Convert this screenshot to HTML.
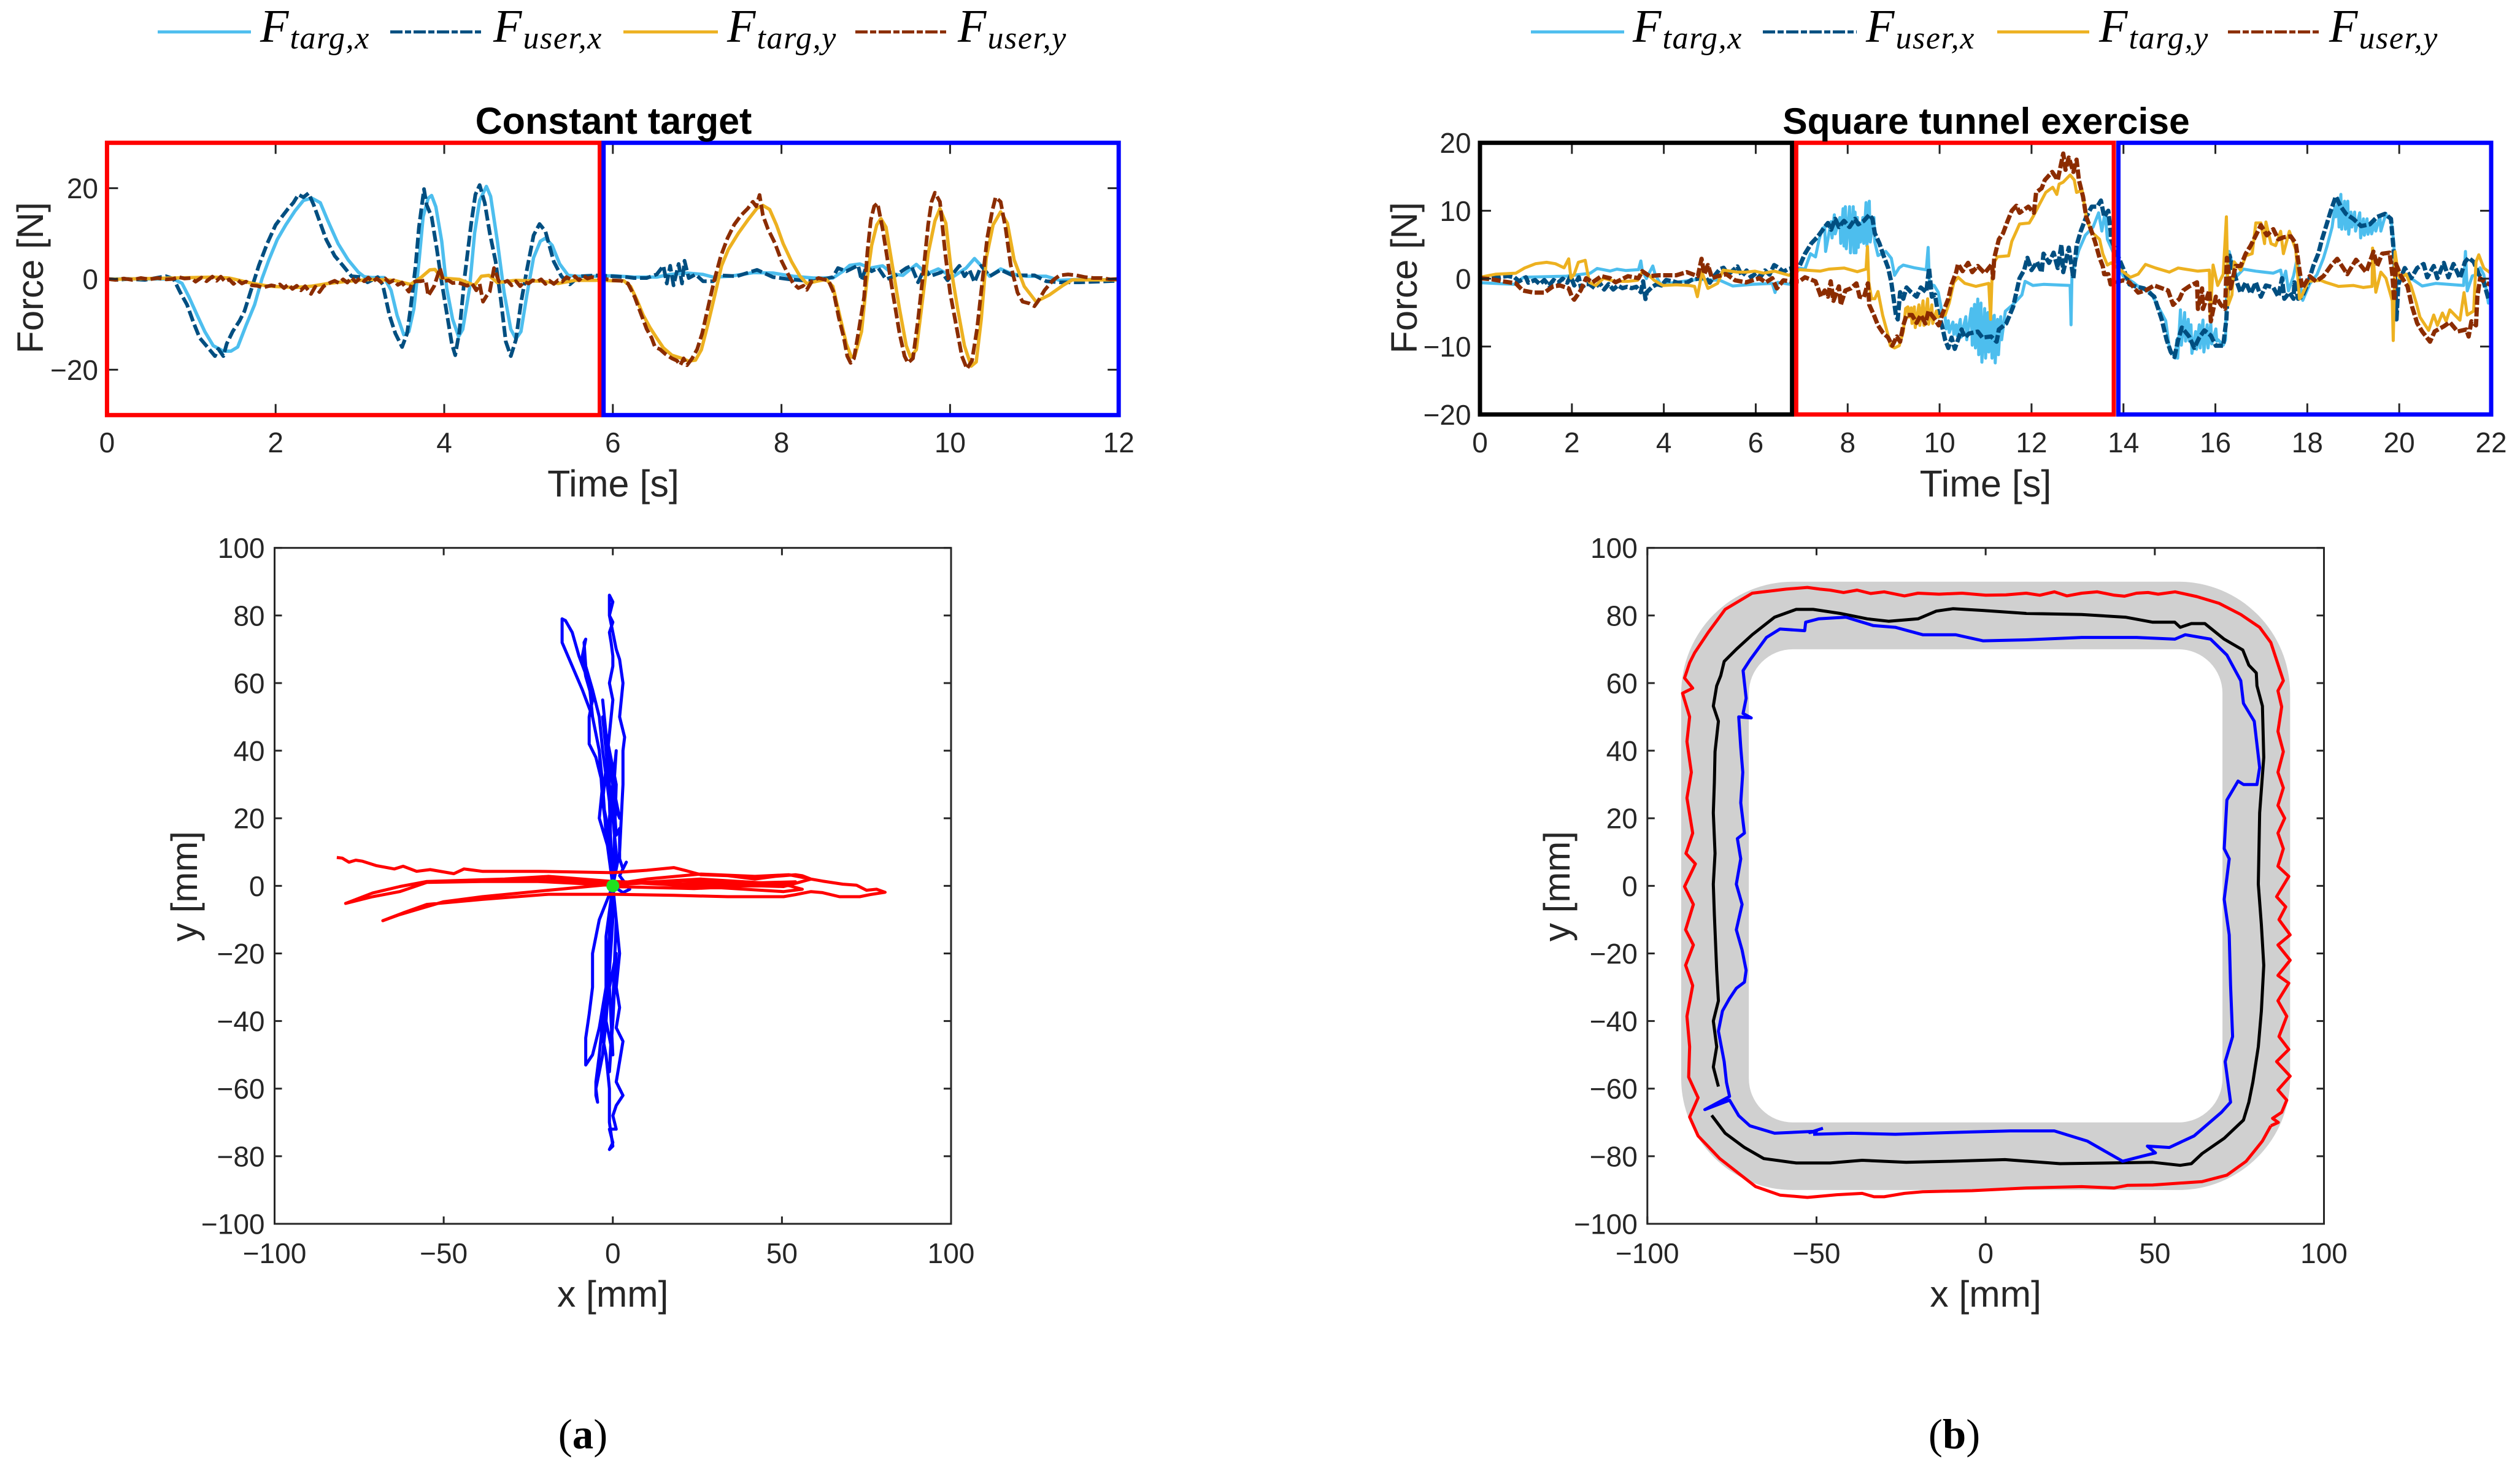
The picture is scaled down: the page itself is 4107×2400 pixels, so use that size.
<!DOCTYPE html>
<html lang="en">
<head>
<meta charset="utf-8">
<title>Force and trajectory charts</title>
<style>
html,body{margin:0;padding:0;background:#fff}
svg{display:block}
text{font-family:"Liberation Sans",Arial,sans-serif;fill:#262626}
.math{font-family:"Liberation Serif",serif;font-style:italic;fill:#000}
</style>
</head>
<body>
<svg id="chart" xmlns="http://www.w3.org/2000/svg" width="4107" height="2400" viewBox="0 0 4107 2400">
<rect x="0" y="0" width="4107" height="2400" fill="#fff"/>
<g id="layer"></g>
</svg>
<script>
const leftTicksX=[0,2,4,6,8,10,12];
const leftTicksY=[-20,0,20];
const rightTicksX=[0,2,4,6,8,10,12,14,16,18,20,22];
const rightTicksY=[-20,-10,0,10,20];
const pathTicksX=[-100,-50,0,50,100];
const pathTicksY=[-100,-80,-60,-40,-20,0,20,40,60,80,100];
const leftFrames=[["red",0,5.845],["blue",5.89,12]];
const rightFrames=[["black",0,6.79],["red",6.88,13.79],["blue",13.89,22]];
const tunnelOuter=[90,33];
const tunnelInner=[70,13];
const originPoint=[0,0];

const leftTargX=[[0,0],[.79,0],[.89,-.97],[.97,-3.9],[1.07,-8],[1.16,-11.6],[1.26,-14.7],[1.38,-15.9],[1.47,-15.9],[1.55,-15],[1.65,-10.2],[1.75,-5.7],[1.84,.15],[1.92,4.2],[2.02,8.7],[2.12,11.9],[2.23,15],[2.33,17.3],[2.43,17.8],[2.53,16.8],[2.62,12.8],[2.74,7.8],[2.86,4.2],[2.98,1.5],[3.05,.5],[3.15,.3],[3.29,.3],[3.37,-2.5],[3.44,-8],[3.52,-12.3],[3.58,-11.6],[3.64,-6.6],[3.7,3.8],[3.75,13.7],[3.81,17.8],[3.85,18.4],[3.9,15.9],[3.97,8.3],[4.03,-2.1],[4.1,-8.9],[4.17,-12.7],[4.22,-11.1],[4.3,-2.1],[4.36,10.1],[4.42,17.3],[4.5,20.4],[4.55,18.2],[4.63,8.3],[4.71,-3],[4.79,-11.1],[4.85,-13.2],[4.91,-11.6],[4.98,-3.5],[5.06,4.7],[5.14,8.3],[5.2,9],[5.28,7.4],[5.37,3.3],[5.47,.8],[5.59,.6],[5.84,.6],[6,.7],[6.25,.4],[6.52,.4],[6.68,1],[6.88,1.3],[7.07,1],[7.19,.4],[7.39,.6],[7.67,1.4],[7.9,1.3],[8.14,.6],[8.38,.2],[8.61,.2],[8.73,1.7],[8.81,3],[8.93,3.3],[9.05,2.4],[9.2,2.9],[9.32,1.1],[9.44,.8],[9.6,3.2],[9.72,1.1],[9.86,2.2],[10.03,.4],[10.19,2.4],[10.29,4.5],[10.37,2.9],[10.47,.6],[10.6,2.2],[10.74,1.1],[10.9,.6],[11.14,.6],[11.3,-.3],[11.53,-.1],[11.97,-.2],[12,-.2]];
const leftUserX=[[0,0],[.13,-.2],[.25,0],[.45,-.2],[.7,.6],[.79,0],[.87,-3],[.95,-5.7],[1.03,-9.8],[1.1,-13],[1.2,-15.2],[1.28,-17],[1.32,-15.4],[1.38,-17],[1.42,-14.3],[1.49,-11.6],[1.57,-9.3],[1.63,-7.1],[1.73,-1.2],[1.8,2.9],[1.9,7.8],[2,11.9],[2.14,15.3],[2.21,16.8],[2.27,18.6],[2.33,18],[2.39,18.9],[2.45,16.4],[2.53,12.3],[2.6,8.7],[2.7,5.1],[2.8,2.9],[2.9,.6],[3.01,.4],[3.09,-.75],[3.21,.4],[3.27,-1.2],[3.35,-8],[3.42,-12],[3.5,-15],[3.56,-12],[3.6,-6.6],[3.66,2.9],[3.7,11.4],[3.76,19.8],[3.79,16.4],[3.85,13.7],[3.91,6.9],[3.97,-.75],[4.03,-7.5],[4.09,-14.3],[4.13,-16.8],[4.18,-11.6],[4.24,.15],[4.32,12.3],[4.37,18.6],[4.42,20.7],[4.48,16.8],[4.54,10.1],[4.61,3.8],[4.67,-4.4],[4.73,-13.8],[4.79,-17],[4.85,-13.4],[4.91,-5.3],[4.98,2],[5.06,9.6],[5.13,12.1],[5.2,10.5],[5.3,3.8],[5.39,.6],[5.49,-1.2],[5.6,.6],[5.84,.8],[6,.6],[6.17,.4],[6.25,.2],[6.4,.2],[6.52,1],[6.6,2.9],[6.64,-1],[6.68,2.9],[6.72,-1.4],[6.78,3.3],[6.82,-1],[6.85,4],[6.9,.2],[6.98,1],[7.07,-.5],[7.19,-.5],[7.27,.8],[7.47,.6],[7.71,2],[7.9,.4],[8.1,-.1],[8.38,-.5],[8.61,.4],[8.67,2.4],[8.77,1.7],[8.91,3],[8.95,-.3],[9.01,2.9],[9.07,1.7],[9.15,2.4],[9.24,-.1],[9.34,.6],[9.48,2.4],[9.54,2.9],[9.62,-.75],[9.7,2.4],[9.76,.6],[9.9,1.5],[9.97,-.3],[10.11,2.9],[10.17,.6],[10.23,2],[10.29,-.75],[10.37,2.9],[10.47,.6],[10.6,2],[10.74,.8],[11,.8],[11.14,-.5],[11.3,-.75],[11.53,-.75],[12,-.4]];
const leftTargY=[[0,-.1],[.79,.2],[1.26,.4],[1.45,.2],[1.73,-1],[1.92,-1.6],[2.23,-1.9],[2.43,-1.6],[2.62,-1],[2.86,-.5],[3.13,-.1],[3.4,-.3],[3.6,-1.2],[3.73,.4],[3.83,2],[3.89,2.1],[3.97,.2],[4.18,-.1],[4.36,-1.4],[4.44,.6],[4.53,.8],[4.63,-.8],[4.85,-.3],[5.16,-.5],[5.35,-1],[5.55,-.3],[5.84,-.3],[6.01,-.4],[6.13,-.4],[6.21,-1.65],[6.29,-4.8],[6.36,-8],[6.44,-10.7],[6.52,-13],[6.6,-15.2],[6.7,-16.8],[6.8,-17.4],[6.9,-18.1],[6.98,-17.9],[7.05,-15.6],[7.13,-9.8],[7.21,-3.5],[7.29,2.9],[7.37,6.5],[7.49,10.1],[7.61,13.2],[7.71,15.6],[7.78,16.2],[7.86,15.3],[7.94,11.9],[8.02,7.8],[8.12,3.8],[8.22,.6],[8.3,-1],[8.42,-.5],[8.53,-.1],[8.61,-1.65],[8.69,-8],[8.77,-14.3],[8.83,-17.2],[8.87,-17],[8.95,-11.6],[9.01,-.75],[9.07,7.4],[9.13,11.9],[9.18,13.3],[9.24,11.4],[9.32,2.4],[9.4,-6.6],[9.48,-14.7],[9.53,-17.2],[9.6,-15.6],[9.66,-6.6],[9.74,5.6],[9.82,12.8],[9.88,15.5],[9.95,12.3],[10.01,2.4],[10.09,-6.6],[10.17,-14.7],[10.25,-19.2],[10.31,-18.3],[10.37,-8.9],[10.43,4.7],[10.51,11.9],[10.6,14.8],[10.68,12.3],[10.76,4.2],[10.88,-1.65],[11.02,-5],[11.18,-3.5],[11.34,-1.4],[11.45,-.2],[11.97,-.2],[12,-.2]];
const leftUserY=[[0,0],[.1,-.2],[.2,.1],[.3,-.2],[.4,.2],[.5,-.1],[.6,.2],[.7,-.1],[.78,0],[.85,.4],[.92,.1],[1,.2],[1.05,-.6],[1.12,.3],[1.18,-.5],[1.25,.5],[1.3,-.4],[1.35,.5],[1.4,-.6],[1.45,-.1],[1.5,-1.1],[1.55,-.3],[1.6,-1],[1.65,-.6],[1.72,-1.4],[1.78,-1.5],[1.85,-1.9],[1.95,-1.4],[2,-1.6],[2.05,-1.2],[2.1,-2],[2.15,-1.2],[2.2,-2.2],[2.25,-1.5],[2.3,-2.5],[2.35,-1.6],[2.42,-3.3],[2.47,-1.7],[2.52,-2.9],[2.57,-1.6],[2.65,-.8],[2.7,-.4],[2.75,-.9],[2.8,-.1],[2.85,-.8],[2.9,.3],[2.95,-.7],[3,.2],[3.05,-.5],[3.1,.3],[3.15,-.6],[3.2,.1],[3.25,-.7],[3.3,.1],[3.35,-.8],[3.4,-.3],[3.45,-1.3],[3.5,-.8],[3.58,-2.8],[3.62,-.8],[3.67,-.5],[3.72,-.5],[3.78,-.3],[3.81,-3.7],[3.88,-1.6],[3.95,2.4],[3.99,-.5],[4.05,-.3],[4.1,-.9],[4.15,-.8],[4.2,-1],[4.27,-1.5],[4.33,-1],[4.38,-2.5],[4.42,-1.1],[4.46,-5],[4.5,-3.8],[4.54,-2.8],[4.59,2.4],[4.65,-.6],[4.7,-.8],[4.75,-.4],[4.8,-1.4],[4.85,-.5],[4.9,-1.6],[4.95,-.6],[5,-1],[5.05,-.3],[5.1,-.6],[5.15,-.1],[5.2,-1.1],[5.25,-.4],[5.3,-1.1],[5.35,-.3],[5.4,-.6],[5.45,.4],[5.5,-.1],[5.55,.6],[5.6,-.3],[5.65,.7],[5.7,.1],[5.75,.4],[5.84,.2],[6,-.3],[6.1,-.4],[6.18,-1],[6.26,-4],[6.33,-7.5],[6.4,-11],[6.46,-13],[6.5,-15],[6.56,-15.5],[6.62,-16.5],[6.7,-17.5],[6.76,-18],[6.8,-19],[6.84,-17.5],[6.88,-19],[6.94,-17.5],[7,-15.5],[7.06,-12],[7.12,-7],[7.2,-.5],[7.28,5],[7.36,9],[7.44,12],[7.52,14],[7.6,15.5],[7.66,17],[7.7,16],[7.74,18.5],[7.78,14],[7.84,11],[7.92,8],[8,4],[8.08,1],[8.14,-1],[8.2,-2],[8.26,-1.5],[8.3,-2.4],[8.36,-.5],[8.44,.2],[8.5,-.1],[8.56,-.4],[8.62,-3],[8.68,-8.5],[8.74,-13],[8.78,-17],[8.82,-18.5],[8.86,-17.5],[8.92,-11],[8.98,-4],[9.02,6],[9.06,13],[9.1,16],[9.14,16.7],[9.2,11],[9.26,4],[9.32,-3],[9.4,-12],[9.46,-17],[9.5,-18.5],[9.56,-17.5],[9.62,-9],[9.68,1],[9.74,12],[9.78,17],[9.82,19],[9.88,17],[9.94,6],[10,-3],[10.08,-11],[10.14,-17],[10.2,-19.8],[10.26,-18],[10.32,-11],[10.38,-1],[10.44,9],[10.5,15],[10.54,18],[10.6,17],[10.66,11],[10.72,3],[10.8,-3],[10.86,-5],[10.94,-5.4],[11,-6],[11.04,-5],[11.12,-2.5],[11.22,-.3],[11.3,.8],[11.4,1],[11.5,.8],[11.6,.4],[11.7,.2],[11.8,.2],[11.9,-.1],[12,0]];

const rightTargX=[[0,-.6],[.74,-.84],[.95,.2],[1.88,.36],[2.4,.8],[2.55,1.5],[2.83,1.12],[2.98,1.4],[3.17,1.2],[3.45,1.32],[3.5,2.6],[3.53,1.26],[3.62,0],[3.76,1.86],[3.81,.66],[3.93,-.84],[4.27,-.54],[4.74,-.1],[5.22,-.24],[5.5,-1.08],[5.93,-.84],[6.36,-.7],[6.42,-2.04],[6.48,-.54],[6.75,-.84],[6.95,1.56],[7.07,1.4],[7.19,3.68],[7.3,3.2],[7.38,5.8],[7.45,7.4],[7.5,7.6],[7.52,4],[7.64,8.4],[7.66,6],[7.71,9.4],[7.73,6.6],[7.83,9],[7.85,5.2],[7.9,10.3],[7.92,4.8],[7.95,10.6],[7.97,4.4],[8.04,10.6],[8.06,3.8],[8.12,10.6],[8.14,3.8],[8.16,9.8],[8.18,3.8],[8.21,9],[8.23,4.6],[8.26,8.2],[8.28,5.4],[8.33,9],[8.35,5.2],[8.4,11.2],[8.42,4.8],[8.47,11.4],[8.49,5.4],[8.57,9],[8.59,5.4],[8.66,3.4],[8.83,4],[8.95,3],[9.02,.5],[9.12,1.6],[9.21,2],[9.45,1.6],[9.71,1.3],[9.75,4.6],[9.78,-.8],[9.88,-1],[9.97,-2],[10.05,-4.8],[10.12,-5.6],[10.14,-7.4],[10.19,-6.2],[10.21,-7.92],[10.29,-6.4],[10.31,-8.2],[10.36,-6.8],[10.38,-8.4],[10.45,-6],[10.47,-8.6],[10.57,-5.6],[10.59,-9],[10.69,-4.4],[10.71,-9.8],[10.76,-3.8],[10.78,-10.2],[10.83,-3],[10.85,-11.2],[10.9,-3.6],[10.92,-12.3],[10.98,-4.4],[11,-11.7],[11.05,-5],[11.07,-10.8],[11.12,-5.4],[11.14,-11.7],[11.19,-5.4],[11.21,-12.4],[11.26,-6],[11.28,-11.2],[11.33,-5.6],[11.35,-9],[11.43,-4.8],[11.6,-3.8],[11.79,-2.4],[11.86,-.4],[12.03,-1],[12.26,-.84],[12.84,-1],[12.86,-6.8],[12.88,.6],[13.03,4.2],[13.17,6.4],[13.34,7.6],[13.46,9.7],[13.53,7],[13.6,9.8],[13.65,5.8],[13.73,4.6],[13.99,.4],[14.21,-.54],[14.37,-1.4],[14.59,-2],[14.73,-3.8],[14.92,-6.2],[15,-10.2],[15.13,-11.7],[15.16,-9],[15.18,-11.7],[15.24,-4.6],[15.26,-9.8],[15.33,-5],[15.35,-9.2],[15.41,-6],[15.43,-9.2],[15.47,-6.8],[15.49,-11],[15.57,-7.8],[15.59,-10.4],[15.65,-6.8],[15.67,-10.2],[15.73,-6.1],[15.75,-10.8],[15.82,-6.8],[15.84,-10.2],[15.9,-6.6],[15.92,-9.6],[16.01,-7.4],[16.03,-9.2],[16.06,-9],[16.17,-9.8],[16.22,-9],[16.25,0],[16.3,4],[16.39,1.6],[16.47,.4],[16.61,1.4],[16.88,1.1],[17.26,.8],[17.42,1.26],[17.47,-.4],[17.53,1.1],[17.59,-1.8],[17.7,.4],[17.78,3],[17.83,0],[17.9,-3.2],[18.05,-.8],[18.21,.6],[18.35,3],[18.43,4.8],[18.54,7.6],[18.6,10.6],[18.62,9.1],[18.67,11.8],[18.69,7.6],[18.73,12.4],[18.75,7.28],[18.81,11.4],[18.83,7.28],[18.88,11.4],[18.9,6.54],[18.95,9.8],[18.97,7.6],[19.03,9.8],[19.05,7],[19.14,9.7],[19.16,6],[19.22,8.8],[19.24,6.4],[19.3,8.8],[19.32,6.54],[19.38,8.2],[19.4,6.6],[19.47,8.4],[19.49,7],[19.58,9.2],[19.6,7],[19.71,9.6],[19.73,9.1],[19.82,8.8],[19.88,5.4],[19.93,-1.4],[19.99,-.2],[20.07,.6],[20.18,.4],[20.5,-1.08],[20.8,-.7],[21.4,-1],[21.44,4],[21.48,-1.8],[21.59,.4],[21.7,.6],[21.76,1.6],[21.84,.6],[21.94,-3.6],[22,-3.6]];
const rightUserX=[[0,.2],[.3,.1],[.6,.4],[.75,.2],[.85,-.4],[1,.2],[1.05,-.6],[1.2,-.2],[1.3,-.8],[1.4,-.2],[1.5,-1],[1.6,-.2],[1.7,-.6],[1.8,0],[1.9,-.6],[1.97,.4],[2.05,-1],[2.15,.2],[2.2,-1.4],[2.3,-.8],[2.38,-.8],[2.5,-1.4],[2.6,-.6],[2.7,-1.6],[2.8,-.8],[2.9,-1.6],[3,-1],[3.1,-1.4],[3.2,-1.2],[3.3,-1.4],[3.4,-1.2],[3.5,-2],[3.55,-.4],[3.6,-3],[3.63,-2],[3.75,-1.2],[3.85,-.8],[3.95,-1],[4.05,-.2],[4.2,-.4],[4.3,-.6],[4.5,-.6],[4.6,-.2],[4.75,0],[4.9,.2],[5,-.6],[5.1,.4],[5.22,1.4],[5.3,1.6],[5.4,.6],[5.5,1.2],[5.6,1.8],[5.7,.4],[5.8,1.2],[5.9,.2],[6,.8],[6.1,.2],[6.2,1.2],[6.3,.6],[6.4,2],[6.5,1.6],[6.6,1],[6.7,1.4],[6.95,1.8],[7.07,3.66],[7.21,5.2],[7.35,6.2],[7.5,7.6],[7.57,8.2],[7.64,7.2],[7.73,8.8],[7.81,7.6],[7.92,8.5],[8.04,7.6],[8.16,8.8],[8.23,8],[8.35,8.5],[8.47,9.4],[8.54,8.8],[8.59,6.68],[8.69,5.2],[8.78,3.4],[8.88,1.6],[8.95,-.54],[9,-2.96],[9.05,-5.36],[9.09,-6],[9.14,-2],[9.21,-2.96],[9.28,-1.3],[9.38,-2],[9.5,-2.66],[9.59,-1.3],[9.71,-2],[9.77,1.56],[9.83,-2.66],[9.9,-2.36],[9.95,-4.46],[10.05,-6.88],[10.12,-9],[10.19,-10.2],[10.26,-8.68],[10.33,-10.34],[10.4,-9],[10.48,-7.48],[10.55,-8.68],[10.64,-8.08],[10.83,-7.8],[10.93,-8.68],[11.12,-8.52],[11.24,-9.28],[11.29,-7.48],[11.45,-6.6],[11.6,-4.16],[11.74,.06],[11.84,1.26],[11.91,3.06],[12,1.26],[12.12,2.46],[12.22,.96],[12.26,3.68],[12.38,2.32],[12.48,3.82],[12.57,1.56],[12.65,5.02],[12.69,.96],[12.81,4.56],[12.91,.06],[12.98,4.88],[13.07,6.98],[13.19,9.1],[13.31,10.6],[13.43,10.6],[13.51,11.5],[13.58,9.1],[13.67,10],[13.72,6.98],[13.73,5.78],[13.99,1.56],[14.13,-.84],[14.26,-1.14],[14.45,-1.44],[14.67,-2.66],[14.83,-5.96],[14.94,-9],[15.03,-10.8],[15.11,-11.54],[15.19,-9],[15.27,-7.2],[15.43,-8.52],[15.54,-10.2],[15.65,-8.68],[15.76,-7.62],[15.9,-8.38],[16.01,-9.88],[16.17,-9.88],[16.24,-5.96],[16.28,.06],[16.31,3.38],[16.39,1.26],[16.47,-.54],[16.55,-2.06],[16.66,-.54],[16.77,-2.2],[16.88,-.54],[16.99,-2.66],[17.1,-1],[17.26,-1.3],[17.37,-2.66],[17.45,.06],[17.5,-2.96],[17.61,-2.06],[17.7,-2.96],[17.72,-.54],[17.8,-2.96],[17.89,-2.66],[18.02,-.54],[18.13,1.86],[18.24,3.68],[18.32,5.78],[18.43,8.2],[18.51,9.98],[18.62,12.1],[18.73,10.6],[18.84,9.54],[19,8.8],[19.17,7.74],[19.36,8],[19.52,9.1],[19.69,9.54],[19.82,8.8],[19.9,2.46],[19.94,-6],[19.98,-.84],[20.12,1.56],[20.26,.06],[20.39,1.56],[20.53,2.16],[20.61,.2],[20.75,1.86],[20.83,.06],[20.97,2.32],[21.07,.2],[21.18,2.16],[21.32,.06],[21.43,2.46],[21.51,3.06],[21.62,2.46],[21.73,.66],[21.84,-.54],[21.94,-2.96],[22,-3.2]];
const rightTargY=[[0,.2],[.35,.66],[.78,.8],[.97,1.56],[1.21,2.2],[1.45,2.4],[1.64,2.2],[1.83,1.6],[1.93,2.92],[1.98,.06],[2.05,.66],[2.14,2.4],[2.29,2.7],[2.38,-.54],[2.52,-1],[2.69,.06],[2.93,-.4],[3.22,-.4],[3.43,-.24],[3.53,1],[3.65,.66],[3.79,-.24],[3.98,-1],[4.27,-.9],[4.55,-1],[4.67,-1.14],[4.73,-2.66],[4.79,-.54],[4.83,.96],[4.96,-1.44],[5.17,-.7],[5.29,1.26],[5.6,.96],[5.79,.96],[5.98,1.1],[6.17,.8],[6.41,1.1],[6.72,.5],[6.95,1.32],[7.4,1.1],[7.59,1.4],[7.92,1.56],[8.21,1.02],[8.4,1.4],[8.43,4.72],[8.46,-.54],[8.52,-2.96],[8.59,-2.96],[8.66,-1.9],[8.76,-5.36],[8.88,-8.38],[8.93,-9.88],[9.02,-10.2],[9.12,-9.88],[9.21,-7.8],[9.26,-4.4],[9.31,-4.16],[9.33,-5.66],[9.38,-4.3],[9.4,-6.6],[9.45,-4.16],[9.47,-7.2],[9.55,-3.86],[9.57,-6.88],[9.64,-3.26],[9.66,-6.88],[9.74,-2.96],[9.76,-6.72],[9.83,-3.86],[9.85,-6.6],[9.93,-4.76],[9.95,-5.66],[10.12,-5.36],[10.21,-3.56],[10.31,-.54],[10.4,.2],[10.55,-.7],[10.79,-1.14],[11.07,-.7],[11.11,-5.98],[11.14,.06],[11.19,2.46],[11.26,3.22],[11.5,3.36],[11.57,5.48],[11.67,6.98],[11.74,8.04],[11.95,8.2],[12.03,9.1],[12.17,10.9],[12.31,12.7],[12.46,13.46],[12.55,12.4],[12.6,13.92],[12.69,14.22],[12.84,15.26],[12.93,14.52],[12.98,12.7],[13.1,13],[13.19,9.1],[13.29,6.98],[13.48,5.78],[13.55,3.68],[13.65,2],[13.73,2.32],[13.99,1],[14.15,.2],[14.32,.66],[14.48,2.1],[14.7,1.56],[15,.96],[15.19,1.56],[15.62,1.1],[15.87,1.26],[15.89,-5.36],[15.95,2],[16.05,-1],[16.17,.66],[16.24,9.1],[16.28,-3.86],[16.36,-2.4],[16.41,2.46],[16.55,1.26],[16.66,3.36],[16.8,3.68],[16.88,8.2],[16.99,8.2],[17.07,5.16],[17.1,8.34],[17.21,5.16],[17.31,4.86],[17.42,6.98],[17.48,3.68],[17.61,6.98],[17.75,4.26],[17.83,-2.96],[17.87,-2.66],[18.02,-.4],[18.29,-.24],[18.4,-.54],[18.68,-1.14],[19,-1],[19.22,-1.3],[19.41,-1.14],[19.42,4.5],[19.49,-2],[19.6,.96],[19.71,.06],[19.85,-3.26],[19.87,-9.12],[19.91,3.98],[19.96,1.56],[20.01,.06],[20.15,.66],[20.26,-1.14],[20.37,-3.56],[20.45,-5.66],[20.64,-7.62],[20.75,-5.36],[20.83,-6.88],[20.94,-5.06],[21.02,-6.26],[21.1,-4.6],[21.32,-6.12],[21.41,-2.06],[21.48,-5.36],[21.62,-4.76],[21.67,2.46],[21.73,3.52],[21.84,1.56],[21.96,.96],[22,.96]];
const rightUserY=[[0,.06],[.26,-.1],[.5,-.4],[.78,-.7],[.93,-1.74],[1.17,-2.06],[1.4,-2.06],[1.59,-1.14],[1.74,-1],[1.93,-1.44],[2,-2.66],[2.05,-3.1],[2.19,-1.74],[2.31,.06],[2.45,-.54],[2.64,.36],[2.83,.06],[2.95,-.54],[3.22,.36],[3.45,.06],[3.53,1.1],[3.69,.36],[3.88,.5],[4.27,.5],[4.5,.96],[4.74,.36],[4.82,2.92],[4.88,.66],[4.96,2],[5.05,.06],[5.17,.36],[5.36,.66],[5.55,-.24],[5.79,-.54],[6.08,.06],[6.22,-.54],[6.36,.06],[6.46,-1.44],[6.6,-.24],[6.75,-.4],[6.95,-.4],[7.07,.2],[7.3,-.4],[7.42,-2.66],[7.5,-1.74],[7.57,-2.66],[7.63,-.4],[7.69,-3.26],[7.81,-1.14],[7.85,-3.86],[7.95,-1.74],[8.07,-1.44],[8.19,-.7],[8.26,-2.66],[8.35,-2.8],[8.44,-.7],[8.47,-3.86],[8.57,-5.36],[8.66,-6.88],[8.76,-7.92],[8.88,-8.68],[8.97,-9.88],[9.07,-8.52],[9.14,-9.28],[9.21,-6.88],[9.28,-5.36],[9.4,-5.36],[9.5,-6.52],[9.59,-5.36],[9.69,-6.6],[9.76,-4.76],[9.88,-5.82],[9.98,-6.88],[10.07,-5.06],[10.19,-2.96],[10.26,-.84],[10.36,.96],[10.4,2.16],[10.5,1.1],[10.62,2.32],[10.71,.96],[10.83,1.86],[10.98,.8],[11.14,2.16],[11.16,.06],[11.19,3.06],[11.29,5.78],[11.38,6.68],[11.48,8.5],[11.57,10],[11.67,10.74],[11.74,9.7],[11.93,10.6],[12.05,9.7],[12.1,12.7],[12.22,13.3],[12.29,14.52],[12.45,15.72],[12.57,14.52],[12.69,18.42],[12.74,16.02],[12.81,17.82],[12.91,15.72],[12.98,17.52],[13.03,14.52],[13.12,12.1],[13.19,9.1],[13.29,7.28],[13.38,5.48],[13.48,3.06],[13.55,1.86],[13.58,.66],[13.67,.66],[13.72,-.84],[13.99,-.24],[14.13,-.54],[14.32,-2.06],[14.48,-1.74],[14.67,-1],[14.97,-1.74],[15.08,-3.86],[15.22,-2.96],[15.3,-1.74],[15.43,-1.14],[15.6,-.54],[15.62,-4.46],[15.71,-1.44],[15.73,-4.46],[15.87,-1.74],[15.9,-6.28],[16.01,-2.66],[16.12,-3.86],[16.21,-4.46],[16.25,3.06],[16.33,-1.44],[16.44,1.86],[16.55,1.86],[16.66,3.68],[16.77,4.88],[16.88,6.38],[16.99,7.88],[17.12,6.38],[17.26,7.28],[17.37,5.78],[17.48,6.08],[17.64,6.24],[17.75,5.18],[17.83,1.26],[17.89,-1.44],[17.97,-.54],[18.05,.36],[18.19,-.4],[18.35,.36],[18.51,1.86],[18.65,2.92],[18.87,.66],[19.06,2.78],[19.28,.96],[19.44,3.98],[19.52,1.86],[19.63,3.68],[19.79,3.82],[19.85,.66],[19.89,-3.26],[19.93,2.16],[20.04,.36],[20.18,-1.14],[20.28,-4.16],[20.39,-6.56],[20.5,-7.78],[20.67,-9.28],[20.77,-7.78],[20.97,-7.02],[21.1,-6.42],[21.27,-7.78],[21.46,-7.48],[21.51,-8.52],[21.57,-6.28],[21.67,-6.88],[21.7,-2.66],[21.76,.06],[21.87,-.54],[21.96,-.84],[22,-.8]];

const crossBlue=[[0,0],[2,10],[2.5,20],[3,30],[3,40],[3.5,44],[2,50],[3,60],[2,67],[1,70],[0,75],[-1,80],[-1,86],[0,84],[-1,80],[0,78],[-1,75],[-.5,72],[0,68],[0,65],[-1,60],[0,55],[-1,45],[-2,35],[-3,25],[-1,15],[0,5],[0,0],[1,-10],[2,-20],[1,-30],[2,-36],[1,-42],[3,-46],[2,-52],[1,-58],[3,-62],[1,-65],[0,-68],[1,-72],[-1,-72],[0,-76],[-1,-78],[0,-77],[-1,-70],[-1,-60],[-2,-50],[-3,-45],[-2,-35],[-1,-20],[0,-5],[0,0],[-2,15],[-3,30],[-4,40],[-6,50],[-7,60],[-10,68],[-12,75],[-14,78.5],[-15,79],[-15,72],[-12,65],[-9,58],[-6,50],[-4,40],[-3,25],[-1,10],[0,0],[-4,-10],[-6,-20],[-6,-30],[-7,-38],[-8,-45],[-8,-52],[-8,-53],[-6,-50],[-4,-42],[-2,-30],[-1,-15],[0,0],[-1,10],[-4,20],[-3,30],[-5,38],[-7,42],[-7,50],[-6,55],[-8,62],[-9,68],[-8,73],[-8.5,72],[-8,65],[-6,58],[-4,50],[-3,40],[-1,25],[-.5,10],[0,0],[-2,-15],[-2,-30],[-3,-40],[-4,-50],[-5,-58],[-5,-62],[-4.5,-64],[-5,-60],[-3,-50],[-2,-40],[-1,-25],[0,-10],[0,0],[1,30],[0,35],[-2,45],[-3,55],[-2,45],[0,30],[1,15],[2,17],[2,8],[3,5],[4,7],[2,3],[5,-1],[3,-2],[0,0],[-1,-20],[-2,-40],[0,-50],[-1,-30],[1,-20],[0,-40],[-1,-55],[0,-35],[1,-10],[0,0],[-1,20],[1,40],[0,25],[2,20],[-1,35],[-3,50],[-1,30],[1,10],[0,0]];
const crossRed=[[-81.6,8.4],[-80,8.2],[-78,7],[-76,7.6],[-74,7.3],[-70,6],[-64.6,5],[-62,5.8],[-58,4.3],[-54,4.8],[-47,3.6],[-44,5],[-38.6,4.3],[-22,4.3],[0,3.9],[10,4.6],[18,5.4],[22,4.4],[26,3.3],[34,3],[42,2],[48,2.8],[54,3.3],[56,3],[58.6,2],[62,1.4],[68,.5],[72,.2],[75,-1.3],[78,-1],[80.5,-1.9],[76,-2.6],[73,-3.2],[67,-3.2],[62,-2],[58.6,-1.7],[54,-2.6],[50.5,-3.2],[34,-3.2],[18,-2.8],[0,-2.5],[-19,-2.5],[-38.6,-4],[-55,-5.5],[-62,-8],[-68,-10.3],[-63,-8.5],[-50,-4.7],[-38.6,-3.2],[-19,-1.3],[0,.5],[26,2],[50.5,.5],[56,-1],[50.5,-1.7],[26,-.2],[0,1.3],[-22,1.3],[-38.6,1.3],[-55,1],[-63,-1.7],[-71,-3.2],[-79,-5.2],[-71,-2.1],[-63,-.2],[-55,1.3],[-32,2],[-19,2.8],[0,1.3],[26,.5],[50.5,-.2],[58.6,2],[52,3.3],[42,2.8],[26,3.5],[10,2],[0,.5],[-20,2.2],[-35,1.8],[-20,1.2],[0,.2],[20,1.6],[40,.8],[54,1.2],[44,.2],[24,-.8],[0,-.2]];
const tunnelRed=[[84.3,-71],[86.5,-70],[84.8,-68.8],[87.5,-67],[89,-63.4],[86.4,-60.4],[90,-56.3],[86,-52],[89.6,-48.4],[86.7,-44.6],[89,-38.6],[86.4,-34],[89.6,-28.8],[86.4,-26.5],[90,-22],[86.4,-17.5],[90,-14.5],[86.7,-10],[88.7,-6.2],[86,-3.2],[89.6,2.8],[86.4,5.8],[88,11],[86.4,15.6],[88.4,20],[86.4,23.8],[88,29],[86.4,33.6],[88,39.7],[86.4,45.7],[87.5,53],[86.4,57.7],[88,60.7],[86,66.8],[84.3,72],[81,76.5],[75.4,80.3],[69,83.6],[62.4,85.6],[56,87],[51,86.3],[48,86.8],[44.6,86.6],[41,85.7],[38,86],[33,87],[28.4,86.6],[24,85.8],[20.3,87],[16,86],[12,86.6],[6,86.1],[0,86],[-7,86.6],[-13.8,86.3],[-20,86.6],[-24,85.8],[-30,87],[-34,86.5],[-38,87.5],[-42,86.8],[-46,87.5],[-49,87.8],[-52.7,88.3],[-59,87.8],[-69,86.6],[-77,81.8],[-82,75],[-86,69],[-87.5,66],[-89,61.5],[-86.6,58.5],[-89.6,57],[-87.5,50],[-88.3,42.7],[-87,33.6],[-88.3,26],[-86.6,15.6],[-88.6,9.6],[-85.8,6.5],[-89,-.2],[-86.4,-5.5],[-88.7,-13],[-86.4,-17.5],[-88.7,-23.5],[-86.6,-29.5],[-88.3,-38.6],[-87.5,-47.6],[-87.8,-56.6],[-85,-62.7],[-87.5,-68.4],[-85,-74],[-78.6,-80.7],[-68,-89],[-60.8,-91.5],[-52.7,-92.2],[-44,-91.4],[-36.5,-91],[-33,-92],[-30,-92],[-24,-91],[-18.6,-90.5],[-4,-90.2],[12,-89.4],[28.4,-89],[38,-89.4],[42,-88.6],[49.4,-88.5],[64,-87.5],[71.3,-85.6],[77,-81.5],[81.8,-75.5],[84.3,-71]];
const tunnelBlack=[[-79,-59.4],[-80.5,-53.6],[-79.5,-47.6],[-80.5,-40],[-79,-34],[-79.5,-25],[-80.2,-8.5],[-80.5,.5],[-80,9.6],[-80.5,21.6],[-80.2,30.6],[-80,39.7],[-79,48.7],[-80.5,53.2],[-79.5,59.2],[-78.3,62.2],[-77.3,66.4],[-73.7,70],[-69,74.3],[-62.4,79.5],[-56,81.8],[-51,81.8],[-43,80.6],[-35,79],[-28.7,78.3],[-20,79],[-14.6,81.3],[-9.7,82],[-.8,81.5],[12,80.6],[28.4,80.3],[41.3,79.5],[49.4,78],[55.9,78],[57.5,76.5],[60.8,77.6],[64.8,77.6],[70.5,73],[76,69.8],[77.8,65.3],[80,63],[80.2,59.2],[81.8,53.2],[82.2,38],[81,21.6],[80.6,.5],[81.5,-11.5],[82.2,-23.5],[81.5,-37],[80.6,-47.6],[79,-58],[77.8,-64],[76.2,-69.3],[70.5,-74.7],[64,-79.2],[60.8,-82.2],[57.5,-82.7],[49.4,-81.8],[36.5,-82],[22,-82.2],[5.7,-81],[-10.5,-81.5],[-23.5,-81.8],[-36.5,-81.2],[-46,-82],[-56,-82],[-65.6,-80.7],[-71.3,-77.4],[-77,-73.2],[-81,-67.9]];
const tunnelBlue=[[-48.1,-71.7],[-52,-73],[-50,-72.6],[-62.4,-73.2],[-69.7,-71],[-73,-68],[-75.7,-63.4],[-83,-66.2],[-75.7,-62.3],[-76.6,-58.2],[-77.3,-52],[-79,-43],[-77.8,-37],[-75.7,-33.3],[-73.7,-30.3],[-71.3,-28.5],[-70.8,-25],[-72,-19],[-73.7,-13],[-72,-5.5],[-73.7,.5],[-72.4,8],[-73.4,14],[-71.3,15.6],[-72.4,24.6],[-71.8,33.6],[-72.4,41],[-73,50],[-69.3,49.7],[-71.7,51],[-70.8,55.5],[-71.7,63.7],[-69.7,66.8],[-64.8,73.5],[-60.8,76],[-53.5,75.5],[-53.2,78],[-49.4,79],[-41.3,79.5],[-33.2,77],[-26.7,76.5],[-18.6,74.3],[-8.9,74.3],[-.8,72.5],[12,72.8],[28.4,73.5],[44.6,73.5],[55.9,73],[59,74.3],[66.5,73],[71.3,68.3],[75.4,60.7],[76.2,54],[79.4,48.7],[81,35],[80.2,30],[76.2,30],[74.6,31],[71.3,25.4],[70.5,11],[72,8],[70.5,-4],[72,-14.5],[72.4,-29.5],[73,-44.6],[70.8,-52],[72.4,-64],[69.7,-67],[61.6,-74],[54.3,-77.4],[47.8,-77],[50.2,-79],[46.2,-80],[40.5,-81.5],[30,-75.5],[20.3,-72.5],[7.3,-72.5],[-4,-72.8],[-26.7,-73.5],[-39.7,-73.2],[-51,-73.5]];

const NS="http://www.w3.org/2000/svg";
const layer=document.getElementById("layer");
const INK="#262626";
const LIGHT="#4DBEEE",DARK="#004E80",AMBER="#EDB120",BROWN="#8B2C00";
const linear=(d0,d1,r0,r1)=>v=>r0+(v-d0)*(r1-r0)/(d1-d0);
function add(tag,attrs,parent){
  const el=document.createElementNS(NS,tag);
  for(const k in attrs)el.setAttribute(k,attrs[k]);
  (parent||layer).appendChild(el);
  return el;
}
function fmt(v){return String(v).replace("-","\u2212");}
function label(txt,x,y,size,anchor,name,rotate,bold){
  const el=add("text",{x:x,y:y,"font-size":size,"text-anchor":anchor});
  if(rotate)el.setAttribute("transform","rotate(-90 "+x+" "+y+")");
  if(bold){el.setAttribute("font-weight","700");el.style.fill="#000";}
  el.textContent=txt;
  
  
  return el;
}
function line(pts,sx,sy,color,width,dash,name){
  const d=pts.map(p=>sx(p[0]).toFixed(1)+","+sy(p[1]).toFixed(1)).join(" ");
  const el=add("polyline",{points:d,fill:"none",stroke:color,"stroke-width":width,"stroke-linejoin":"round"});
  if(dash)el.setAttribute("stroke-dasharray",dash);
  
  
  return el;
}
function tick(x1,y1,x2,y2,w,name){
  const el=add("line",{x1:x1,y1:y1,x2:x2,y2:y2,stroke:INK,"stroke-width":w});
  
  
}
function legend(items,y){
  const names=["targ,x","user,x","targ,y","user,y"];
  const colors=[LIGHT,DARK,AMBER,BROWN];
  items.forEach((it,i)=>{
    const ln=add("line",{x1:it[0],y1:y,x2:it[1],y2:y,stroke:colors[i],"stroke-width":5});
    if(i%2)ln.setAttribute("stroke-dasharray","20 4 10 4");
    
    
    const t=add("text",{x:it[2],y:y+16,class:"math","font-size":76});
    
    
    const f=add("tspan",{},t);f.textContent="F";
    const s=add("tspan",{dx:2,dy:11,"font-size":52,"letter-spacing":1.6},t);s.textContent=names[i];
  });
}
function forcePanel(o){
  const sx=linear(o.xd[0],o.xd[1],o.xr[0],o.xr[1]);
  const sy=linear(o.yd[0],o.yd[1],o.yr[0],o.yr[1]);
  o.series.forEach(s=>line(s[0],sx,sy,s[1],s[2],s[3],o.id+"-"+s[4]));
  o.xt.forEach(v=>{
    tick(sx(v),o.yr[1],sx(v),o.yr[1]+18,3,o.id+"-x-tick-top");
    tick(sx(v),o.yr[0],sx(v),o.yr[0]-18,3,o.id+"-x-tick-bottom");
    label(fmt(v),sx(v),737,46,"middle",o.id+"-x-tick-label");
  });
  o.yt.forEach(v=>{
    tick(o.xr[0],sy(v),o.xr[0]+18,sy(v),3,o.id+"-y-tick-left");
    tick(o.xr[1],sy(v),o.xr[1]-18,sy(v),3,o.id+"-y-tick-right");
    label(fmt(v),o.xr[0]-14.4,sy(v)+16.5,46,"end",o.id+"-y-tick-label");
  });
  o.frames.forEach(f=>{
    const x0=sx(f[1]),x1=sx(f[2]);
    const r=add("rect",{x:x0,y:o.yr[1],width:x1-x0,height:o.yr[0]-o.yr[1],fill:"none",stroke:f[0],"stroke-width":7});
    
    
  });
}
function pathPanel(o){
  const sx=linear(-100,100,o.x0,o.x1);
  const sy=linear(-100,100,1994,892.7);
  if(o.tunnel){
    const outer=add("rect",{x:sx(-tunnelOuter[0]),y:sy(tunnelOuter[0]),width:sx(tunnelOuter[0])-sx(-tunnelOuter[0]),height:sy(-tunnelOuter[0])-sy(tunnelOuter[0]),rx:sx(tunnelOuter[1])-sx(0),ry:sx(tunnelOuter[1])-sx(0),fill:"#d0d0d0"});
    
    
    const inner=add("rect",{x:sx(-tunnelInner[0]),y:sy(tunnelInner[0]),width:sx(tunnelInner[0])-sx(-tunnelInner[0]),height:sy(-tunnelInner[0])-sy(tunnelInner[0]),rx:sx(tunnelInner[1])-sx(0),ry:sx(tunnelInner[1])-sx(0),fill:"#fff"});
    
    
  }
  o.series.forEach(s=>line(s[0],sx,sy,s[1],5,null,s[2]));
  if(o.origin){
    const dot=add("circle",{cx:sx(originPoint[0]),cy:sy(originPoint[1]),r:10.5,fill:"#1fe01f"});
    
    
  }
  const box=add("rect",{x:o.x0,y:892.7,width:o.x1-o.x0,height:1994-892.7,fill:"none",stroke:INK,"stroke-width":3});
  
  
  pathTicksX.forEach(v=>{
    tick(sx(v),1994,sx(v),1982,3,o.id+"-x-tick-bottom");
    tick(sx(v),892.7,sx(v),904.7,3,o.id+"-x-tick-top");
    label(fmt(v),sx(v),2058,46,"middle",o.id+"-x-tick-label");
  });
  pathTicksY.forEach(v=>{
    tick(o.x0,sy(v),o.x0+12,sy(v),3,o.id+"-y-tick-left");
    tick(o.x1,sy(v),o.x1-12,sy(v),3,o.id+"-y-tick-right");
    label(fmt(v),o.x0-16,sy(v)+16.5,46,"end",o.id+"-y-tick-label");
  });
  label("x [mm]",(o.x0+o.x1)/2,2129,60.5,"middle",o.id+"-x-axis-title");
  label("y [mm]",o.yl,1444,60,"middle",o.id+"-y-axis-title",true);
}

legend([[257,409,424],[636,788,804],[1016,1170,1185],[1394,1544,1561]],52);
legend([[2495,2647,2661],[2873,3026,3041],[3255,3405,3421],[3631,3781,3796]],52);

forcePanel({id:"left",xd:[0,12],xr:[174.4,1823.2],yd:[-30,30],yr:[676.3,232.7],xt:leftTicksX,yt:leftTicksY,frames:leftFrames,
  series:[[leftTargX,LIGHT,5.5,null,"target-x-line"],[leftUserX,DARK,6,"18 6","user-x-line"],[leftTargY,AMBER,5.5,null,"target-y-line"],[leftUserY,BROWN,6,"18 6","user-y-line"]]});
forcePanel({id:"right",xd:[0,22],xr:[2412,4060],yd:[-20,20],yr:[675.3,232.7],xt:rightTicksX,yt:rightTicksY,frames:rightFrames,
  series:[[rightTargX,LIGHT,5,null,"target-x-line"],[rightUserX,DARK,7,"15 4","user-x-line"],[rightTargY,AMBER,5,null,"target-y-line"],[rightUserY,BROWN,7,"15 4","user-y-line"]]});

label("Constant target",1000,218,61,"middle","left-chart-title",false,true);
label("Square tunnel exercise",3237,218,60.6,"middle","right-chart-title",false,true);
label("Time [s]",999.5,809,61,"middle","left-x-axis-title");
label("Time [s]",3236,809,61,"middle","right-x-axis-title");
label("Force [N]",70,452.6,60,"middle","left-y-axis-title",true);
label("Force [N]",2309,452.6,60,"middle","right-y-axis-title",true);

pathPanel({id:"cross",x0:447.5,x1:1550,yl:321,origin:true,tunnel:false,series:[[crossBlue,"#0000ff","vertical-trajectory"],[crossRed,"#ff0000","horizontal-trajectory"]]});
pathPanel({id:"tunnel",x0:2684.8,x1:3787.5,yl:2558,origin:false,tunnel:true,series:[[tunnelRed,"#ff0000","outer-trajectory"],[tunnelBlack,"#000000","middle-trajectory"],[tunnelBlue,"#0000ff","inner-trajectory"]]});

[["a",950,"panel-label-a"],["b",3185,"panel-label-b"]].forEach(p=>{
  const t=add("text",{x:p[1],y:2360,"font-size":69,"text-anchor":"middle"});
  t.style.fontFamily='"Liberation Serif",serif';
  t.style.fill="#000";
  
  
  const a=add("tspan",{},t);a.textContent="(";
  const b=add("tspan",{"font-weight":"700"},t);b.textContent=p[0];
  const c=add("tspan",{},t);c.textContent=")";
});
</script>
</body>
</html>
